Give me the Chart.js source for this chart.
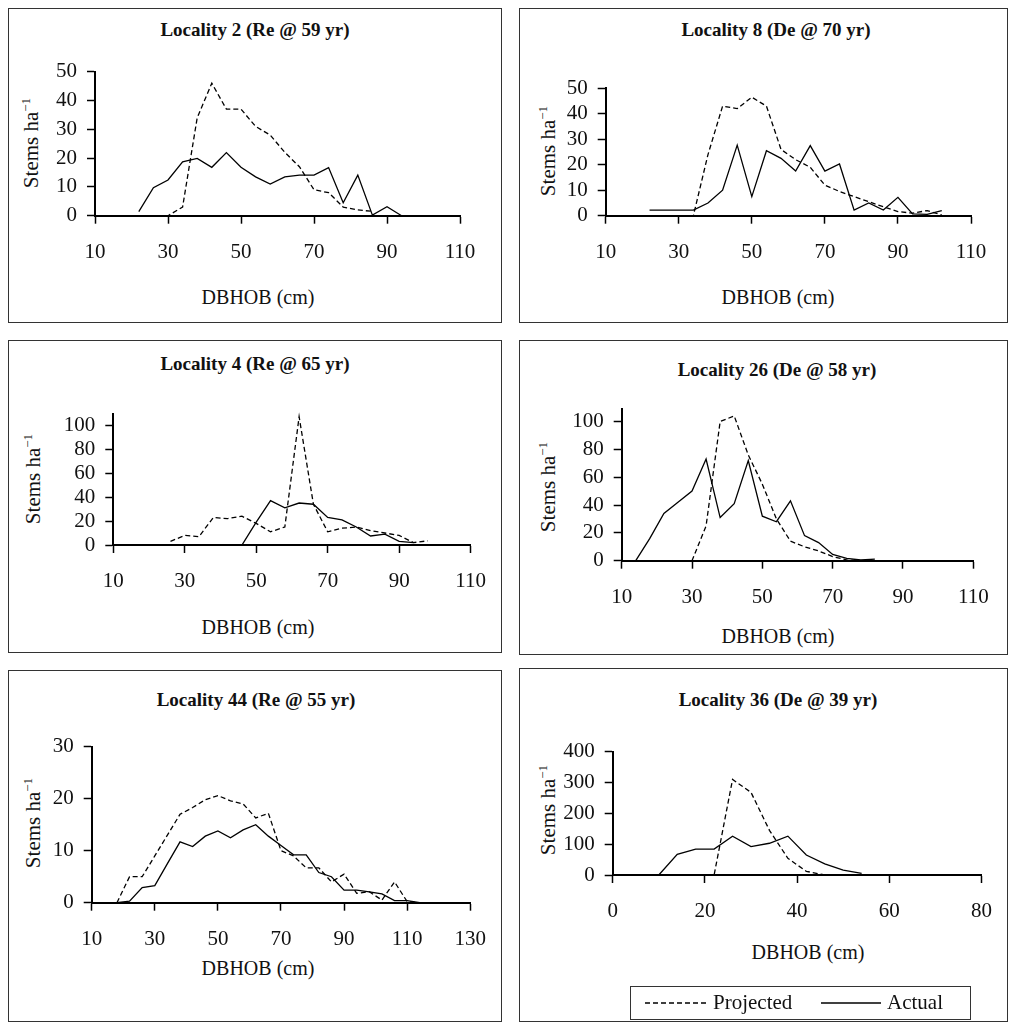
<!DOCTYPE html>
<html>
<head>
<meta charset="utf-8">
<script src="https://cdn.jsdelivr.net/npm/chart.js@4.4.1/dist/chart.umd.min.js"></script>
<style>
  html, body { margin: 0; padding: 0; background: #fff; }
  body { width: 1010px; height: 1024px; position: relative; overflow: hidden; font-family: "Liberation Serif", "Times New Roman", serif; color: #111; }
  .frame { position: absolute; border: 1.5px solid #333; box-sizing: border-box; }
  .title { position: absolute; font-weight: bold; font-size: 19px; white-space: nowrap; transform: translate(-50%, -50%); }
  .xt { position: absolute; font-size: 20px; white-space: nowrap; transform: translate(-50%, -50%); }
  .yt { position: absolute; font-size: 21px; white-space: nowrap; transform: translate(-50%, -50%) rotate(-90deg); }
  .yt sup { font-size: 13px; vertical-align: 8px; line-height: 0; }
  canvas { position: absolute; }
  #legend { position: absolute; left: 630px; top: 986px; width: 341px; height: 34px; border: 1.5px solid #333; box-sizing: border-box; font-size: 21px; }
  #legend span { position: absolute; top: 3px; }
  #legend svg { position: absolute; top: 0; left: 0; }
</style>
</head>
<body>
<script>
// ---------- DATA ----------
// Locality 2 (Re @ 59 yr)
const dbh_L2 = [14,18,22,26,30,34,38,42,46,50,54,58,62,66,70,74,78,82,86,90,94];
const projected_L2 = [0,0,0,0,0,3,34,46,37,37,31,28,22,17,9,8,3,2,1.5,null,null];
const actual_L2 = [null,null,1.4,9.7,12.4,18.7,19.9,16.8,21.9,16.8,13.5,11,13.5,14.1,14.1,16.7,4.5,14.1,0.2,3.1,0];

// Locality 8 (De @ 70 yr)
const dbh_L8 = [22,26,30,34,38,42,46,50,54,58,62,66,70,74,78,82,86,90,94,98,102];
const projected_L8 = [0,0,0,0,24,43,42,46.5,43,26,22,19,12,9.5,7.5,5.5,3.5,1.6,1,2,0.3];
const actual_L8 = [2.2,2.2,2.2,2.2,5,10,27.7,7.5,25.5,22.5,17.5,27.5,17.5,20.3,2.2,5,2.2,7.2,0.7,0.5,2];

// Locality 4 (Re @ 65 yr)
const dbh_L4 = [26,30,34,38,42,46,50,54,58,62,66,70,74,78,82,86,90,94,98];
const projected_L4 = [3,8,7,23,22,24,18,11,15,107,34,11,14,15,12,10,8,2,3.5];
const actual_L4 = [0,0,0,0,0,0,19,37,31,35,34,23,21,15,7.5,9,3,2,null];

// Locality 26 (De @ 58 yr)
const dbh_L26 = [14,18,22,26,30,34,38,42,46,50,54,58,62,66,70,74,78,82];
const projected_L26 = [0,0,0,0,0,25,100,104,76,55,30,14,10,7,3,0.5,0,0];
const actual_L26 = [0,16,34,42,50,73,31,41,72,32,28,43,18,13,4.5,1.7,0.5,1.2];

// Locality 44 (Re @ 55 yr)
const dbh_L44 = [18,22,26,30,34,38,42,46,50,54,58,62,66,70,74,78,82,86,90,94,98,102,106,110,114,118];
const projected_L44 = [0,5,5,9,13,17,18.3,19.8,20.6,19.6,19,16.3,17.2,10,9,6.7,6.7,4,5.5,1.8,2.1,0.5,4,0.2,0,0];
const actual_L44 = [0,0.3,2.9,3.3,7.5,11.7,10.8,12.8,13.8,12.5,14,15,12.8,11,9.2,9.2,5.8,5,2.4,2.4,2.1,1.7,0.4,0.4,0,0];

// Locality 36 (De @ 39 yr)
const dbh_L36 = [10,14,18,22,26,30,34,38,42,46,50,54];
const projected_L36 = [0,0,0,0,310,268,145,54,12,0,null,null];
const actual_L36 = [0,67,84,84,126,92,103,126,65,36,16,5];

// Axis tick settings
const xTicks_a = [10,110,20];   // min, max, step
const xTicks_b = [10,130,20];
const xTicks_c = [0,80,20];

const titles = ["Locality 2 (Re @ 59 yr)","Locality 8 (De @ 70 yr)","Locality 4 (Re @ 65 yr)","Locality 26 (De @ 58 yr)","Locality 44 (Re @ 55 yr)","Locality 36 (De @ 39 yr)"];
const xTitle = "DBHOB (cm)";
const seriesNames = ["Projected","Actual"];

// ---------- LAYOUT ----------
const panels = [
  { title: titles[0], x: dbh_L2, proj: projected_L2, act: actual_L2, xr: xTicks_a, ymax: 50, ystep: 10,
    frame: [8,8,502,323], plot: [95,71.7,460,215.7], titleY: 30, titleX: 255, xtPos: [258,297], ytPos: [31,143] },
  { title: titles[1], x: dbh_L8, proj: projected_L8, act: actual_L8, xr: xTicks_a, ymax: 50, ystep: 10,
    frame: [519,8,1008,323], plot: [605.7,88.3,971,215.7], titleY: 30, titleX: 776, xtPos: [778,297], ytPos: [548,151] },
  { title: titles[2], x: dbh_L4, proj: projected_L4, act: actual_L4, xr: xTicks_a, ymax: 109, ystep: 20,
    frame: [8,340,502,653], plot: [113.3,414.3,481.7,545], titleY: 364, titleX: 255, xtPos: [258,627], ytPos: [33,479] },
  { title: titles[3], x: dbh_L26, proj: projected_L26, act: actual_L26, xr: xTicks_a, ymax: 109, ystep: 20,
    frame: [519,340,1008,655], plot: [621.7,409,973.3,560.7], titleY: 370, titleX: 777, xtPos: [778,636], ytPos: [548,487] },
  { title: titles[4], x: dbh_L44, proj: projected_L44, act: actual_L44, xr: xTicks_b, ymax: 30, ystep: 10,
    frame: [8,670,502,1022], plot: [91.7,746.7,476.7,902.7], titleY: 700, titleX: 256, xtPos: [258,968], ytPos: [33,823] },
  { title: titles[5], x: dbh_L36, proj: projected_L36, act: actual_L36, xr: xTicks_c, ymax: 400, ystep: 100,
    frame: [519,668,1008,1022], plot: [612.7,751.7,986.7,875], titleY: 700, titleX: 778, xtPos: [808,952], ytPos: [548,810] }
];

const FONT = { family: "'Liberation Serif', 'Times New Roman', serif", size: 21 };

function addDiv(cls, html, x, y) {
  const d = document.createElement('div');
  d.className = cls; d.innerHTML = html;
  d.style.left = x + 'px'; d.style.top = y + 'px';
  document.body.appendChild(d);
  return d;
}

panels.forEach((p) => {
  const [fl, ft, fr, fb] = p.frame;
  const [pl, pt, pr, pb] = p.plot;
  const fr_ = document.createElement('div');
  fr_.className = 'frame';
  fr_.style.left = fl + 'px'; fr_.style.top = ft + 'px';
  fr_.style.width = (fr - fl) + 'px'; fr_.style.height = (fb - ft) + 'px';
  document.body.appendChild(fr_);

  addDiv('title', p.title, p.titleX, p.titleY);
  addDiv('xt', xTitle, p.xtPos[0], p.xtPos[1]);
  addDiv('yt', 'Stems ha<sup>\u22121</sup>', p.ytPos[0], p.ytPos[1]);

  const cv = document.createElement('canvas');
  const W = Math.round(fr - fl), H = Math.round(fb - ft);
  cv.width = W; cv.height = H;
  cv.style.left = fl + 'px'; cv.style.top = ft + 'px';
  cv.style.width = W + 'px'; cv.style.height = H + 'px';
  document.body.appendChild(cv);

  const mk = (arr) => p.x.map((x, i) => ({ x: x, y: arr[i] }));

  new Chart(cv.getContext('2d'), {
    type: 'line',
    data: {
      datasets: [
        { label: seriesNames[0], data: mk(p.proj), borderColor: '#000', borderWidth: 1.3, borderDash: [5, 3],
          pointRadius: 0, tension: 0, fill: false, clip: false, spanGaps: false },
        { label: seriesNames[1], data: mk(p.act), borderColor: '#000', borderWidth: 1.3,
          pointRadius: 0, tension: 0, fill: false, clip: false, spanGaps: false }
      ]
    },
    options: {
      responsive: false, animation: false, devicePixelRatio: 1,
      layout: { padding: { left: 0, top: pt - ft, right: fr - pr, bottom: 0 } },
      plugins: { legend: { display: false }, tooltip: { enabled: false }, title: { display: false } },
      scales: {
        x: {
          type: 'linear', min: p.xr[0], max: p.xr[1],
          ticks: { stepSize: p.xr[2], font: FONT, color: '#111', padding: 16, maxRotation: 0, autoSkip: false, includeBounds: false },
          grid: { drawOnChartArea: false, drawTicks: true, tickLength: 8, tickWidth: 1.5, tickColor: '#000' },
          border: { display: true, color: '#000', width: 2 },
          afterFit: (s) => { s.height = (fb - ft) - (pb - ft); }
        },
        y: {
          type: 'linear', min: 0, max: p.ymax,
          ticks: { stepSize: p.ystep, font: FONT, color: '#111', padding: 10, includeBounds: false, autoSkip: false },
          grid: { drawOnChartArea: false, drawTicks: true, tickLength: 8, tickWidth: 1.5, tickColor: '#000' },
          border: { display: true, color: '#000', width: 2 },
          afterFit: (s) => { s.width = pl - fl; }
        }
      }
    }
  });
});

// ---------- LEGEND ----------
const lg = document.createElement('div');
lg.id = 'legend';
lg.innerHTML =
  '<svg width="341" height="34"><line x1="14" y1="16" x2="77" y2="16" stroke="#000" stroke-width="1.3" stroke-dasharray="5,3"/>' +
  '<line x1="190" y1="16" x2="250" y2="16" stroke="#000" stroke-width="1.3"/></svg>' +
  '<span style="left:82px">' + seriesNames[0] + '</span>' +
  '<span style="left:256px">' + seriesNames[1] + '</span>';
document.body.appendChild(lg);
</script>
</body>
</html>
